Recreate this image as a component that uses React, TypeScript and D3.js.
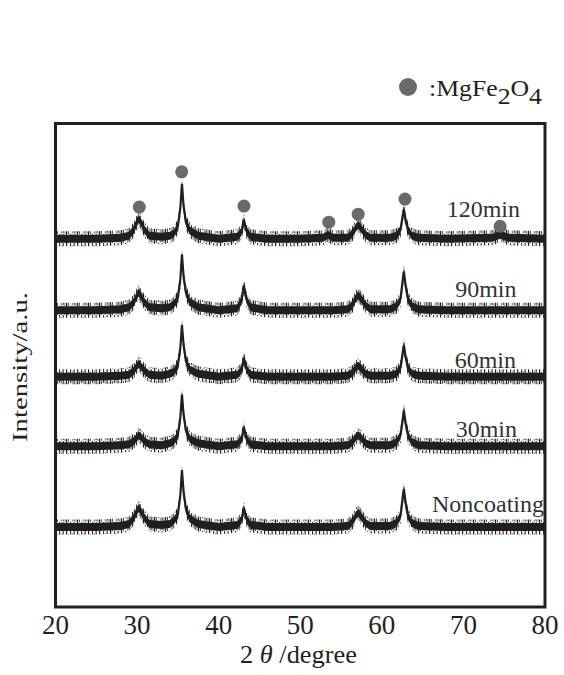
import React from "react";
import * as d3 from "d3";

const twoTheta = [
  20, 25, 28.0, 29.0, 29.6, 30.0, 30.2, 30.5, 30.9, 31.5,
  33.0, 34.0, 34.5, 35.0, 35.3, 35.5, 35.7, 36.0, 36.5, 37.5,
  40.0, 42.3, 42.8, 43.1, 43.4, 43.9, 46.0, 50.0, 52.8, 53.4,
  54.0, 55.8, 56.4, 56.8, 57.1, 57.5, 58.0, 58.6, 61.0, 61.8,
  62.3, 62.55, 62.7, 62.9, 63.2, 63.7, 64.5, 68.0, 73.5, 74.5,
  75.5, 80,
];

// intensities above each pattern's own baseline (a.u.)
const noncoating = [
  0, 0, 1, 3, 9, 16, 19, 15, 9, 3,
  2, 3, 6, 12, 31, 56, 34, 17, 8, 3,
  0, 2, 7, 18, 8, 2, 0, 0, 0, 0,
  0, 1, 5, 11, 14, 10, 4, 1, 1, 4,
  11, 28, 37, 24, 11, 4, 1, 0, 0, 0,
  0, 0,
];
const min30 = [
  0, 0, 1, 2, 5, 9, 11, 9, 5, 2,
  1, 3, 5, 11, 28, 51, 31, 15, 7, 3,
  0, 2, 7, 18, 8, 2, 0, 0, 0, 0,
  0, 1, 4, 9, 11, 8, 3, 1, 1, 4,
  11, 26, 35, 23, 11, 4, 1, 0, 0, 0,
  0, 0,
];
const min60 = [
  0, 0, 1, 2, 6, 11, 13, 10, 6, 2,
  1, 3, 5, 11, 28, 51, 31, 15, 7, 3,
  0, 2, 7, 18, 8, 2, 0, 0, 0, 0,
  0, 1, 4, 9, 11, 8, 3, 1, 1, 3,
  9, 23, 31, 20, 9, 3, 1, 0, 0, 0,
  0, 0,
];
const min90 = [
  0, 0, 1, 3, 8, 15, 18, 14, 8, 3,
  2, 3, 6, 12, 30, 55, 33, 17, 8, 3,
  0, 2, 10, 24, 11, 3, 0, 0, 0, 0,
  0, 1, 5, 12, 15, 11, 5, 1, 1, 4,
  11, 29, 38, 25, 11, 4, 1, 0, 0, 0,
  0, 0,
];
const min120 = [
  0, 0, 1, 3, 9, 17, 20, 16, 9, 3,
  2, 3, 5, 12, 30, 54, 32, 16, 8, 3,
  0, 2, 7, 18, 8, 2, 0, 0, 1, 4,
  1, 1, 5, 11, 14, 10, 4, 1, 1, 3,
  9, 22, 29, 19, 9, 3, 1, 0, 1, 4,
  1, 0,
];

const seriesNames = ["Noncoating", "30min", "60min", "90min", "120min"];
const seriesValues = [noncoating, min30, min60, min90, min120];
// vertical stacking offset of each pattern (a.u.)
const seriesOffsets = [80, 160, 229, 295, 366];

// MgFe2O4 reflections marked above the 120min pattern
const markerTheta = [30.27, 35.47, 43.1, 53.5, 57.1, 62.84, 74.5];
const markerIntensity = [397, 432, 398, 382, 390, 405, 378];

const xTicks = [20, 30, 40, 50, 60, 70, 80];

const W = 564;
const H = 675;
const margin = { left: 55.5, right: 19, top: 123.5, bottom: 68 };
const ink = "#231f20";
const dotColor = "#6a6a6c";
const serif = { fontFamily: "Liberation Serif" };

// where the pattern names sit (right edge, baseline)
const labelPos = [
  { x: 544, y: 511.5 },
  { x: 517, y: 436.5 },
  { x: 516, y: 368 },
  { x: 516.5, y: 297 },
  { x: 520, y: 216.5 },
];

export default function App() {
  const x = d3
    .scaleLinear()
    .domain([20, 80])
    .range([margin.left, W - margin.right]);
  const y = d3
    .scaleLinear()
    .domain([0, 480])
    .range([H - margin.bottom, margin.top]);

  const band = 4.5;
  const fuzz = 8;

  return (
    <svg
      width={W}
      height={H}
      style={{ position: "absolute", left: 0, top: 0, background: "#fff" }}
    >
      <defs>
        <pattern id="hair" width="11" height="9" patternUnits="userSpaceOnUse">
          <rect x="0" y="0" width="1.2" height="9" fill={ink} />
          <rect x="2.2" y="3" width="0.8" height="6" fill={ink} />
          <rect x="4.1" y="0" width="1" height="5" fill={ink} />
          <rect x="5.8" y="2" width="0.7" height="7" fill={ink} opacity="0.8" />
          <rect x="7.6" y="0" width="1.1" height="8" fill={ink} />
          <rect x="9.6" y="4" width="0.8" height="5" fill={ink} opacity="0.8" />
        </pattern>
        <clipPath id="plot">
          <rect
            x={margin.left}
            y={margin.top}
            width={W - margin.left - margin.right}
            height={H - margin.top - margin.bottom}
          />
        </clipPath>
      </defs>

      <g clipPath="url(#plot)">
        {seriesValues.map((vals, i) => {
          const pts = twoTheta.map((t, j) => [t, vals[j] + seriesOffsets[i]]);
          const outer = d3
            .area<number[]>()
            .x((d) => x(d[0]))
            .y0((d) => y(d[1]) + fuzz)
            .y1((d) => y(d[1]) - fuzz + 1);
          const inner = d3
            .area<number[]>()
            .x((d) => x(d[0]))
            .y0((d) => y(d[1]) + band)
            .y1((d) => y(d[1]) - band + 1);
          const line = d3
            .line<number[]>()
            .x((d) => x(d[0]))
            .y((d) => y(d[1]));
          return (
            <g key={seriesNames[i]}>
              <path d={outer(pts) || ""} fill="url(#hair)" />
              <path d={inner(pts) || ""} fill={ink} />
              <path d={line(pts) || ""} fill="none" stroke={ink} strokeWidth={2.2} />
            </g>
          );
        })}
      </g>

      {markerTheta.map((t, i) => (
        <circle key={t} cx={x(t)} cy={y(markerIntensity[i])} r={6.5} fill={dotColor} />
      ))}

      {seriesNames.map((name, i) => (
        <text
          key={name}
          x={labelPos[i].x}
          y={labelPos[i].y}
          textAnchor="end"
          fontSize={24}
          fill="#333"
          style={serif}
        >
          {name}
        </text>
      ))}

      <rect
        x={margin.left}
        y={margin.top}
        width={W - margin.left - margin.right}
        height={H - margin.top - margin.bottom}
        fill="none"
        stroke={ink}
        strokeWidth={3}
      />

      {xTicks.map((t) => (
        <text
          key={t}
          x={x(t)}
          y={634}
          textAnchor="middle"
          fontSize={27}
          fill={ink}
          style={serif}
        >
          {t}
        </text>
      ))}

      <text
        x={298.5}
        y={663}
        textAnchor="middle"
        fontSize={25}
        fill={ink}
        style={serif}
        textLength={117}
        lengthAdjust="spacingAndGlyphs"
      >
        2 <tspan fontStyle="italic">θ</tspan> /degree
      </text>

      <text
        transform="translate(27,367) rotate(-90)"
        textAnchor="middle"
        fontSize={22}
        fill={ink}
        style={serif}
        textLength={150}
        lengthAdjust="spacingAndGlyphs"
      >
        Intensity/a.u.
      </text>

      <circle cx={408} cy={87} r={9} fill={dotColor} />
      <text
        x={429}
        y={96}
        fontSize={23}
        fill={ink}
        style={serif}
        textLength={113}
        lengthAdjust="spacingAndGlyphs"
      >
        :MgFe
        <tspan dy={8}>2</tspan>
        <tspan dy={-8}>O</tspan>
        <tspan dy={8}>4</tspan>
      </text>
    </svg>
  );
}
